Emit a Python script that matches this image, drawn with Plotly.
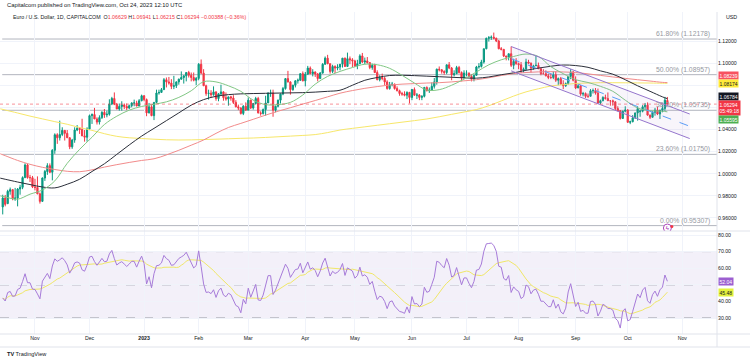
import plotly.graph_objects as go
import pandas as pd

# ---------------- DATA (EUR/USD daily, O H L C) ----------------
oct22 = [(0.9700,0.9810,0.9632,0.9780),(0.9780,0.9808,0.9705,0.9723),(0.9730,0.9855,0.9725,0.9841),
         (0.9841,0.9875,0.9810,0.9856),(0.9856,0.9862,0.9760,0.9773),(0.9773,0.9872,0.9755,0.9780),
         (0.9780,0.9870,0.9705,0.9862),(0.9862,0.9900,0.9810,0.9877),(0.9877,0.9976,0.9860,0.9965),
         (0.9965,1.0094,0.9960,1.0079),(1.0079,1.0090,0.9955,0.9965),(0.9965,0.9990,0.9925,0.9964),
         (0.9964,0.9980,0.9870,0.9881)]
nov22 = [(0.9881,0.9954,0.9850,0.9876),(0.9876,0.9976,0.9815,0.9818),(0.9818,0.9830,0.9730,0.9750),
         (0.9750,0.9966,0.9746,0.9961),(0.9961,1.0034,0.9935,1.0020),(1.0020,1.0095,0.9990,1.0073),
         (1.0073,1.0093,1.0005,1.0013),(1.0013,1.0222,0.9940,1.0212),(1.0212,1.0365,1.0180,1.0352),
         (1.0352,1.0366,1.0270,1.0325),(1.0325,1.0480,1.0300,1.0355),(1.0355,1.0420,1.0340,1.0392),
         (1.0392,1.0395,1.0300,1.0365),(1.0365,1.0395,1.0325,1.0325),(1.0325,1.0330,1.0222,1.0243),
         (1.0243,1.0315,1.0225,1.0304),(1.0304,1.0420,1.0280,1.0395),(1.0395,1.0440,1.0385,1.0410),
         (1.0410,1.0420,1.0360,1.0400),(1.0400,1.0497,1.0340,1.0342),(1.0342,1.0395,1.0290,1.0330),
         (1.0330,1.0420,1.0290,1.0405)]
dec22 = [(1.0405,1.0535,1.0395,1.0525),(1.0525,1.0545,1.0450,1.0535),(1.0535,1.0595,1.0495,1.0495),
         (1.0495,1.0510,1.0445,1.0467),(1.0467,1.0528,1.0445,1.0508),(1.0508,1.0565,1.0495,1.0555),
         (1.0555,1.0585,1.0505,1.0532),(1.0532,1.0570,1.0510,1.0538),(1.0538,1.0673,1.0525,1.0630),
         (1.0630,1.0695,1.0620,1.0680),(1.0680,1.0735,1.0620,1.0628),(1.0628,1.0640,1.0585,1.0585),
         (1.0585,1.0635,1.0570,1.0608),(1.0608,1.0655,1.0570,1.0622),(1.0622,1.0635,1.0585,1.0608),
         (1.0608,1.0635,1.0575,1.0594),(1.0594,1.0625,1.0585,1.0615),(1.0615,1.0645,1.0600,1.0640),
         (1.0640,1.0670,1.0610,1.0640),(1.0640,1.0660,1.0610,1.0612),(1.0612,1.0675,1.0610,1.0660),
         (1.0660,1.0715,1.0655,1.0705)]
jan23 = [(1.0705,1.0710,1.0655,1.0670),(1.0670,1.0680,1.0520,1.0550),(1.0550,1.0640,1.0545,1.0605),
         (1.0605,1.0620,1.0520,1.0525),(1.0525,1.0645,1.0485,1.0645),(1.0645,1.0760,1.0640,1.0730),
         (1.0730,1.0760,1.0715,1.0735),(1.0735,1.0775,1.0735,1.0760),(1.0760,1.0865,1.0760,1.0850),
         (1.0850,1.0870,1.0780,1.0830),(1.0830,1.0875,1.0805,1.0820),(1.0820,1.0855,1.0765,1.0790),
         (1.0790,1.0885,1.0765,1.0795),(1.0795,1.0835,1.0775,1.0830),(1.0830,1.0860,1.0805,1.0855),
         (1.0855,1.0925,1.0850,1.0870),(1.0870,1.0890,1.0815,1.0885),(1.0885,1.0915,1.0835,1.0915),
         (1.0915,1.0930,1.0870,1.0890),(1.0890,1.0915,1.0835,1.0870),(1.0870,1.0915,1.0835,1.0845),
         (1.0845,1.0875,1.0800,1.0862)]
feb23 = [(1.0862,1.1000,1.0845,1.0990),(1.0990,1.1033,1.0900,1.0910),(1.0910,1.0945,1.0795,1.0795),
         (1.0795,1.0805,1.0705,1.0725),(1.0725,1.0760,1.0670,1.0728),(1.0728,1.0755,1.0690,1.0715),
         (1.0715,1.0790,1.0705,1.0740),(1.0740,1.0745,1.0660,1.0680),(1.0680,1.0730,1.0655,1.0722),
         (1.0722,1.0805,1.0705,1.0740),(1.0740,1.0745,1.0660,1.0688),(1.0688,1.0735,1.0660,1.0675),
         (1.0675,1.0695,1.0615,1.0695),(1.0695,1.0705,1.0660,1.0685),(1.0685,1.0710,1.0630,1.0645),
         (1.0645,1.0665,1.0600,1.0605),(1.0605,1.0625,1.0575,1.0595),(1.0595,1.0600,1.0535,1.0545),
         (1.0545,1.0620,1.0530,1.0610),(1.0610,1.0645,1.0570,1.0575)]
mar23 = [(1.0575,1.0690,1.0575,1.0665),(1.0665,1.0670,1.0585,1.0595),(1.0595,1.0640,1.0580,1.0635),
         (1.0635,1.0695,1.0625,1.0680),(1.0680,1.0695,1.0545,1.0550),(1.0550,1.0565,1.0525,1.0545),
         (1.0545,1.0590,1.0535,1.0580),(1.0580,1.0705,1.0525,1.0640),(1.0640,1.0735,1.0640,1.0730),
         (1.0730,1.0760,1.0695,1.0730),(1.0730,1.0760,1.0515,1.0575),(1.0575,1.0615,1.0555,1.0610),
         (1.0610,1.0670,1.0600,1.0665),(1.0665,1.0725,1.0635,1.0720),(1.0720,1.0785,1.0710,1.0770),
         (1.0770,1.0860,1.0760,1.0860),(1.0860,1.0930,1.0825,1.0830),(1.0830,1.0835,1.0715,1.0760),
         (1.0760,1.0805,1.0750,1.0800),(1.0800,1.0845,1.0780,1.0840),(1.0840,1.0860,1.0815,1.0845),
         (1.0845,1.0905,1.0840,1.0905),(1.0905,1.0925,1.0835,1.0840)]
apr23 = [(1.0840,1.0920,1.0790,1.0900),(1.0900,1.0975,1.0895,1.0955),(1.0955,1.0970,1.0900,1.0905),
         (1.0905,1.0945,1.0880,1.0920),(1.0920,1.0925,1.0875,1.0902),(1.0902,1.0910,1.0835,1.0860),
         (1.0860,1.0920,1.0860,1.0910),(1.0910,1.1000,1.0905,1.0990),(1.0990,1.1060,1.0985,1.1045),
         (1.1045,1.1075,1.0990,1.0995),(1.0995,1.0995,1.0905,1.0925),(1.0925,1.0985,1.0910,1.0970),
         (1.0970,1.0980,1.0910,1.0955),(1.0955,1.0990,1.0935,1.0965),(1.0965,1.0990,1.0935,1.0990),
         (1.0990,1.1045,1.0960,1.1045),(1.1045,1.1050,1.0965,1.0970),(1.0970,1.1095,1.0965,1.1040),
         (1.1040,1.1060,1.0990,1.1030),(1.1030,1.1045,1.0965,1.1020)]
may23 = [(1.1020,1.1030,1.0965,1.0975),(1.0975,1.1030,1.0945,1.0995),(1.0995,1.1080,1.0990,1.1065),
         (1.1065,1.1092,1.1000,1.1010),(1.1010,1.1050,1.0990,1.1020),(1.1020,1.1055,1.0995,1.1005),
         (1.1005,1.1010,1.0945,1.0960),(1.0960,1.0995,1.0940,1.0980),(1.0980,1.0995,1.0910,1.0915),
         (1.0915,1.0935,1.0845,1.0850),(1.0850,1.0890,1.0835,1.0870),(1.0870,1.0905,1.0845,1.0862),
         (1.0862,1.0875,1.0800,1.0830),(1.0830,1.0845,1.0760,1.0770),(1.0770,1.0830,1.0760,1.0805),
         (1.0805,1.0830,1.0790,1.0810),(1.0810,1.0815,1.0760,1.0770),(1.0770,1.0790,1.0745,1.0750),
         (1.0750,1.0760,1.0705,1.0725),(1.0725,1.0740,1.0705,1.0720),(1.0720,1.0745,1.0700,1.0710),
         (1.0710,1.0745,1.0675,1.0735),(1.0735,1.0740,1.0635,1.0690)]
jun23 = [(1.0690,1.0765,1.0665,1.0762),(1.0762,1.0780,1.0705,1.0710),(1.0710,1.0730,1.0675,1.0712),
         (1.0712,1.0720,1.0665,1.0690),(1.0690,1.0710,1.0665,1.0700),(1.0700,1.0785,1.0690,1.0780),
         (1.0780,1.0790,1.0745,1.0750),(1.0750,1.0780,1.0730,1.0755),(1.0755,1.0825,1.0750,1.0790),
         (1.0790,1.0865,1.0770,1.0830),(1.0830,1.0950,1.0805,1.0945),(1.0945,1.0970,1.0925,1.0940),
         (1.0940,1.0945,1.0905,1.0925),(1.0925,1.0935,1.0895,1.0915),(1.0915,1.0985,1.0900,1.0985),
         (1.0985,1.1010,1.0945,1.0955),(1.0955,1.0965,1.0845,1.0895),(1.0895,1.0935,1.0880,1.0905),
         (1.0905,1.0975,1.0900,1.0960),(1.0960,1.0975,1.0905,1.0915),(1.0915,1.0925,1.0835,1.0865),
         (1.0865,1.0935,1.0865,1.0910)]
jul23 = [(1.0910,1.0935,1.0880,1.0910),(1.0910,1.0915,1.0875,1.0880),(1.0880,1.0900,1.0835,1.0855),
         (1.0855,1.0895,1.0835,1.0890),(1.0890,1.0975,1.0885,1.0965),(1.0965,1.1000,1.0950,1.0970),
         (1.0970,1.1030,1.0960,1.1010),(1.1010,1.1130,1.0995,1.1130),(1.1130,1.1230,1.1125,1.1225),
         (1.1225,1.1245,1.1195,1.1230),(1.1230,1.1250,1.1210,1.1235),(1.1235,1.1276,1.1215,1.1225),
         (1.1225,1.1230,1.1190,1.1200),(1.1200,1.1210,1.1125,1.1130),(1.1130,1.1145,1.1115,1.1125),
         (1.1125,1.1125,1.1055,1.1065),(1.1065,1.1065,1.1025,1.1055),(1.1055,1.1085,1.1025,1.1085),
         (1.1085,1.1150,1.0965,1.0980),(1.0980,1.1040,1.0945,1.1015),(1.1015,1.1045,1.0985,1.0995)]
aug23 = [(1.0995,1.1005,1.0945,1.0985),(1.0985,1.1010,1.0910,1.0935),(1.0935,1.0960,1.0915,1.0945),
         (1.0945,1.1040,1.0935,1.1010),(1.1010,1.1030,1.0990,1.1000),(1.1000,1.1005,1.0915,1.0955),
         (1.0955,1.0985,1.0940,1.0975),(1.0975,1.1065,1.0975,1.0980),(1.0980,1.1005,1.0945,1.0950),
         (1.0950,1.0960,1.0890,1.0905),(1.0905,1.0945,1.0900,1.0905),(1.0905,1.0935,1.0880,1.0885),
         (1.0885,1.0905,1.0855,1.0870),(1.0870,1.0905,1.0855,1.0870),(1.0870,1.0925,1.0855,1.0895),
         (1.0895,1.0925,1.0830,1.0845),(1.0845,1.0870,1.0800,1.0860),(1.0860,1.0875,1.0805,1.0810),
         (1.0810,1.0845,1.0765,1.0795),(1.0795,1.0825,1.0785,1.0815),(1.0815,1.0885,1.0805,1.0880),
         (1.0880,1.0945,1.0855,1.0920),(1.0920,1.0930,1.0835,1.0845)]
sep23 = [(1.0845,1.0880,1.0765,1.0775),(1.0775,1.0810,1.0775,1.0795),(1.0795,1.0800,1.0705,1.0720),
         (1.0720,1.0740,1.0700,1.0725),(1.0725,1.0735,1.0685,1.0700),(1.0700,1.0725,1.0685,1.0700),
         (1.0700,1.0765,1.0700,1.0750),(1.0750,1.0770,1.0725,1.0752),(1.0752,1.0775,1.0715,1.0730),
         (1.0730,1.0770,1.0630,1.0640),(1.0640,1.0670,1.0630,1.0660),(1.0660,1.0700,1.0655,1.0690),
         (1.0690,1.0715,1.0670,1.0680),(1.0680,1.0735,1.0660,1.0660),(1.0660,1.0665,1.0615,1.0660),
         (1.0660,1.0670,1.0615,1.0650),(1.0650,1.0655,1.0575,1.0590),(1.0590,1.0610,1.0565,1.0570),
         (1.0570,1.0575,1.0490,1.0500),(1.0500,1.0570,1.0495,1.0565),(1.0565,1.0610,1.0555,1.0575)]
oct23 = [(1.0575,1.0585,1.0460,1.0465),(1.0465,1.0480,1.0448,1.0470),(1.0470,1.0530,1.0465,1.0505),
         (1.0505,1.0545,1.0495,1.0550),(1.0550,1.0610,1.0480,1.0590),(1.0560,1.0580,1.0515,1.0565),
         (1.0565,1.0620,1.0555,1.0605),(1.0605,1.0640,1.0575,1.0620),(1.0620,1.0645,1.0525,1.0530),
         (1.0530,1.0535,1.0495,1.0510),(1.0510,1.0565,1.0510,1.0555),(1.0555,1.0595,1.0525,1.0575),
         (1.0575,1.0605,1.0530,1.0540),(1.0540,1.0570,1.0495,1.0575),(1.0575,1.0620,1.0555,1.0590),
         (1.0590,1.0695,1.0570,1.0665),(1.06629,1.06941,1.06215,1.06294)]

sma20 = [0.9800,0.9790,0.9770,0.9815,0.9853,0.9935,1.0094,1.0220,1.0330,1.0445,1.0520,1.0575,1.0608,1.0628,
         1.0650,1.0690,1.0750,1.0832,1.0830,1.0795,1.0745,1.0665,1.0625,1.0625,1.0645,1.0712,1.0810,1.0880,
         1.0925,1.0960,1.0990,1.0985,1.0953,1.0890,1.0820,1.0757,1.0760,1.0800,1.0855,1.0920,1.0985,1.1030,
         1.1060,1.1082,1.1060,1.0968,1.0905,1.0850,1.0825,1.0790,1.0745,1.0665,1.0595,1.0570,1.0565,1.05595]
sma50 = [0.9960,0.9950,0.9925,0.9902,0.9880,0.9872,0.9905,0.9950,1.0020,1.0090,1.0175,1.0260,1.0340,1.0410,
         1.0480,1.0550,1.0620,1.0670,1.0700,1.0715,1.0722,1.0725,1.0727,1.0729,1.0731,1.0733,1.0738,1.0745,
         1.0755,1.0800,1.0845,1.0870,1.0888,1.0890,1.0887,1.0882,1.0877,1.0872,1.0867,1.0864,1.0875,1.0895,
         1.0912,1.0935,1.0955,1.0972,1.0983,1.0978,1.0962,1.0930,1.0900,1.0850,1.0795,1.0745,1.0695,1.06784]
sma100 = [1.0180,1.0163,1.0120,1.0085,1.0058,1.0038,1.0022,1.0018,1.0035,1.0060,1.0082,1.0102,1.0120,1.0135,
          1.0170,1.0212,1.0258,1.0305,1.0365,1.0418,1.0455,1.0492,1.0530,1.0565,1.0597,1.0630,1.0662,1.0695,
          1.0728,1.0752,1.0772,1.0788,1.0802,1.0810,1.0815,1.0820,1.0823,1.0830,1.0840,1.0850,1.0868,1.0888,
          1.0905,1.0915,1.0921,1.0923,1.0920,1.0915,1.0903,1.0889,1.0875,1.0862,1.0850,1.0838,1.0826,1.08239]
sma200 = [1.0587,1.0576,1.0549,1.0521,1.0496,1.0471,1.0447,1.0418,1.0392,1.0362,1.0338,1.0325,1.0318,1.0312,
          1.0307,1.0305,1.0306,1.0309,1.0312,1.0316,1.0320,1.0323,1.0328,1.0334,1.0340,1.0346,1.0354,1.0372,
          1.0395,1.0410,1.0424,1.0438,1.0452,1.0466,1.0480,1.0495,1.0515,1.0537,1.0558,1.0580,1.0615,1.0658,
          1.0702,1.0740,1.0768,1.0793,1.0805,1.0816,1.0820,1.0823,1.0823,1.0822,1.0821,1.0820,1.0818,1.08174]

fib_pct = ["61.80%", "50.00%", "38.20%", "23.60%", "0.00%"]
fib_price = [1.12178, 1.08957, 1.05735, 1.01750, 0.95307]

# parallel channel (start/end bar, upper/lower price)
chan_bars = [205, 277]
chan_upper = [1.1150, 1.0540]
chan_lower = [1.0930, 1.0318]

month_labels = ["Nov", "Dec", "<b>2023</b>", "Feb", "Mar", "Apr", "May", "Jun", "Jul", "Aug", "Sep", "Oct", "Nov"]
price_ticks = [0.96, 0.98, 1.00, 1.02, 1.04, 1.06, 1.08, 1.10, 1.12]
price_hidden = [1.06, 1.08]        # labels covered by the value boxes
rsi_ticks = [30, 40, 50, 60, 70, 80]
rsi_hidden = [50]
rsi_seed_gain, rsi_seed_loss = 0.0042, 0.0058
rsi_last_labels = [52.04, 45.48]   # RSI, RSI-MA as printed on the scale
last_close = 1.06294

# ---------------- BUILD ----------------
rows = oct22 + nov22 + dec22 + jan23 + feb23 + mar23 + apr23 + may23 + jun23 + jul23 + aug23 + sep23 + oct23
opens = [r[0] for r in rows]
highs = [r[1] for r in rows]
lows = [r[2] for r in rows]
closes = [r[3] for r in rows]
n = len(rows)
idx = list(range(n))

cal = pd.bdate_range("2022-10-13", "2023-11-30")
tickpos = []
prev_m = cal[0].month
for i, d in enumerate(cal):
    if d.month != prev_m:
        tickpos.append(i)
        prev_m = d.month

ma_pos = [-1] + [1 + 5 * k for k in range(54)] + [n - 1]

# RSI (14, Wilder) from closes and its 14-bar SMA
ag, al = rsi_seed_gain, rsi_seed_loss
rsi = []
for i in range(n):
    if i > 0:
        ch = closes[i] - closes[i - 1]
        ag = (ag * 13 + max(ch, 0)) / 14
        al = (al * 13 + max(-ch, 0)) / 14
    rsi.append(100 - 100 / (1 + ag / al))
rsi_ma = pd.Series(rsi).rolling(14, min_periods=1).mean().tolist()

W, H = 750, 361
def py(pix):
    return 1 - pix / H

XR = [-1.1, 288.0]
XD = [0, 717 / W]
PRICE_DOM = [py(231), py(12)]
RSI_DOM = [py(334), py(231)]
ppu = 1106.0
price_range = [1.12 - (231 - 41) / ppu, 1.12 + (41 - 12) / ppu]
rsi_ppu = 83 / 50
rsi_range = [30 - (334 - 318) / rsi_ppu, 80 + (235 - 231) / rsi_ppu]

UP, DN = "#089981", "#f23645"
fig = go.Figure()
fig.add_trace(go.Candlestick(x=idx, open=opens, high=highs, low=lows, close=closes,
                             increasing=dict(line=dict(color=UP, width=1), fillcolor=UP),
                             decreasing=dict(line=dict(color=DN, width=1), fillcolor=DN),
                             whiskerwidth=0, xaxis="x", yaxis="y", hoverinfo="skip"))
for vals, col in [(sma200, "#f7e76a"), (sma100, "#f28b8b"), (sma50, "#2a2e39"), (sma20, "#81c784")]:
    fig.add_trace(go.Scatter(x=ma_pos, y=vals, mode="lines", line=dict(color=col, width=1, shape="spline"),
                             xaxis="x", yaxis="y", hoverinfo="skip"))

# channel
mid = [(a + b) / 2 for a, b in zip(chan_upper, chan_lower)]
fig.add_trace(go.Scatter(x=chan_bars, y=chan_upper, mode="lines", line=dict(color="#9575cd", width=1),
                         xaxis="x", yaxis="y", hoverinfo="skip"))
fig.add_trace(go.Scatter(x=chan_bars, y=mid, mode="lines", line=dict(color="#9575cd", width=0),
                         fill="tonexty", fillcolor="rgba(149,117,205,0.07)", xaxis="x", yaxis="y", hoverinfo="skip"))
fig.add_trace(go.Scatter(x=chan_bars, y=chan_lower, mode="lines", line=dict(color="#9575cd", width=1),
                         fill="tonexty", fillcolor="rgba(149,117,205,0.07)", xaxis="x", yaxis="y", hoverinfo="skip"))
fig.add_trace(go.Scatter(x=chan_bars, y=mid, mode="lines", line=dict(color="#5b9cf6", width=1, dash="dash"),
                         xaxis="x", yaxis="y", hoverinfo="skip"))

# event icon
fig.add_trace(go.Scatter(x=[n - 1], y=[0.9509], mode="markers+text", text=["ϟ"], textposition="middle center",
                         textfont=dict(size=6, color="#9c27b0"),
                         marker=dict(symbol="circle", size=8, color="white", line=dict(color="#ab47bc", width=1)),
                         xaxis="x", yaxis="y", hoverinfo="skip"))
fig.add_trace(go.Scatter(x=[n + 0.8], y=[0.9522], mode="markers", marker=dict(size=3, color="#f23645"),
                         xaxis="x", yaxis="y", hoverinfo="skip"))

# RSI
fig.add_trace(go.Scatter(x=idx, y=rsi_ma, mode="lines", line=dict(color="#f0e768", width=1),
                         xaxis="x2", yaxis="y2", hoverinfo="skip"))
fig.add_trace(go.Scatter(x=idx, y=rsi, mode="lines", line=dict(color="#a77bd9", width=1),
                         xaxis="x2", yaxis="y2", hoverinfo="skip"))

shapes = []
for p in fib_price:
    shapes.append(dict(type="line", xref="x", yref="y", x0=-0.2, x1=XR[1], y0=p, y1=p,
                       line=dict(color="#b2b5be", width=1), layer="below"))
shapes.append(dict(type="line", xref="x", yref="y", x0=XR[0], x1=XR[1], y0=last_close, y1=last_close,
                   line=dict(color="rgba(242,54,69,0.55)", width=1, dash="dot")))
shapes.append(dict(type="rect", xref="x2", yref="y2", x0=XR[0], x1=XR[1], y0=30, y1=70,
                   fillcolor="rgba(126,87,194,0.09)", line=dict(width=0), layer="below"))
for lv in [70, 50, 30]:
    shapes.append(dict(type="line", xref="x2", yref="y2", x0=XR[0], x1=XR[1], y0=lv, y1=lv,
                       line=dict(color="#9598a1", width=1, dash="dash"), layer="below"))
# pane frames
frame = "#e0e3eb"
for yy in [231, 334, 347]:
    shapes.append(dict(type="line", xref="paper", yref="paper", x0=0, x1=1, y0=py(yy), y1=py(yy),
                       line=dict(color=frame, width=1)))
shapes.append(dict(type="line", xref="paper", yref="paper", x0=XD[1], x1=XD[1], y0=py(347), y1=py(12),
                   line=dict(color=frame, width=1)))

ann = []
FS = 5.2
ann.append(dict(x=5 / W, y=py(5), xref="paper", yref="paper", xanchor="left", yanchor="middle", showarrow=False,
                text="Capitalcom published on TradingView.com, Oct 24, 2023 12:10 UTC",
                font=dict(size=5.8, color="#131722", family="Arial")))
red = "#f23645"
hdr = ("Euro / U.S. Dollar, 1D, CAPITALCOM  O<span style='color:%s'>1.06629</span> H<span style='color:%s'>1.06941</span>"
       " L<span style='color:%s'>1.06215</span> C<span style='color:%s'>1.06294</span> "
       "<span style='color:%s'>−0.00388 (−0.36%%)</span>") % (red, red, red, red, red)
ann.append(dict(x=11 / W, y=py(17), xref="paper", yref="paper", xanchor="left", yanchor="middle", showarrow=False,
                text=hdr, font=dict(size=5.3, color="#131722", family="Arial")))
ann.append(dict(x=724 / W, y=py(17), xref="paper", yref="paper", xanchor="left", yanchor="middle", showarrow=False,
                text="USD", font=dict(size=5.3, color="#131722", family="Arial")))
ann.append(dict(x=5 / W, y=py(354), xref="paper", yref="paper", xanchor="left", yanchor="middle", showarrow=False,
                text="<b>TV</b> TradingView", font=dict(size=5.6, color="#131722", family="Arial")))
for pct, p in zip(fib_pct, fib_price):
    ann.append(dict(x=286, y=p, xref="x", yref="y", xanchor="right", yanchor="bottom", showarrow=False,
                    text="%s (%.5f)" % (pct, p), font=dict(size=6.8, color="#9598a1", family="Arial"), yshift=-1))

def box(val, txt, bg, fg, shift=0, yref="y"):
    ann.append(dict(x=718 / W, y=val, xref="paper", yref=yref, xanchor="left", yanchor="middle", showarrow=False,
                    text=txt, bgcolor=bg, font=dict(size=5, color=fg, family="Arial"), borderpad=0.5,
                    yshift=shift, align="left"))

box(sma100[-1], "%.5f" % sma100[-1], "#f7525f", "white", 7.5)
box(sma200[-1], "%.5f" % sma200[-1], "#ffeb3b", "#131722", -0.5)
box(sma50[-1], "%.5f" % sma50[-1], "#131722", "white", 2)
box(last_close, "%.5f<br>05:49:18" % last_close, "#f23645", "white", -3.4)
box(sma20[-1], "%.5f" % sma20[-1], "#4caf50", "white", -7.5)
box(rsi[-1], "%.2f" % rsi_last_labels[0], "#9c5fd0", "white", 0, "y2")
box(rsi_ma[-1], "%.2f" % rsi_last_labels[1], "#e3f23c", "#131722", 0, "y2")

fig.update_layout(
    width=W, height=H, margin=dict(l=0, r=0, t=0, b=0), paper_bgcolor="white", plot_bgcolor="white",
    showlegend=False, shapes=shapes, annotations=ann, font=dict(family="Arial", size=FS, color="#131722"),
    hovermode=False,
    xaxis=dict(domain=XD, range=XR, anchor="y", showticklabels=False, tickvals=tickpos, showgrid=True,
               gridcolor="#f0f3fa", zeroline=False, rangeslider=dict(visible=False), fixedrange=True),
    yaxis=dict(domain=PRICE_DOM, range=price_range, side="right", anchor="x", tickvals=price_ticks,
               ticktext=["" if t in price_hidden else "%.5f" % t for t in price_ticks], showgrid=True,
               gridcolor="#f0f3fa", zeroline=False, ticks="", tickfont=dict(size=FS, color="#131722")),
    xaxis2=dict(domain=XD, range=XR, anchor="y2", tickvals=tickpos, ticktext=month_labels, showgrid=True,
                gridcolor="#f0f3fa", zeroline=False, ticks="", tickfont=dict(size=FS, color="#131722")),
    yaxis2=dict(domain=RSI_DOM, range=rsi_range, side="right", anchor="x2", tickvals=rsi_ticks,
                ticktext=["" if t in rsi_hidden else "%.2f" % t for t in rsi_ticks], showgrid=True,
                gridcolor="#f0f3fa", zeroline=False, ticks="", tickfont=dict(size=FS, color="#131722")),
)
fig.write_html("out.html", config={"displayModeBar": False},
               post_script="document.body.style.margin='0px';document.body.style.overflow='hidden';")
